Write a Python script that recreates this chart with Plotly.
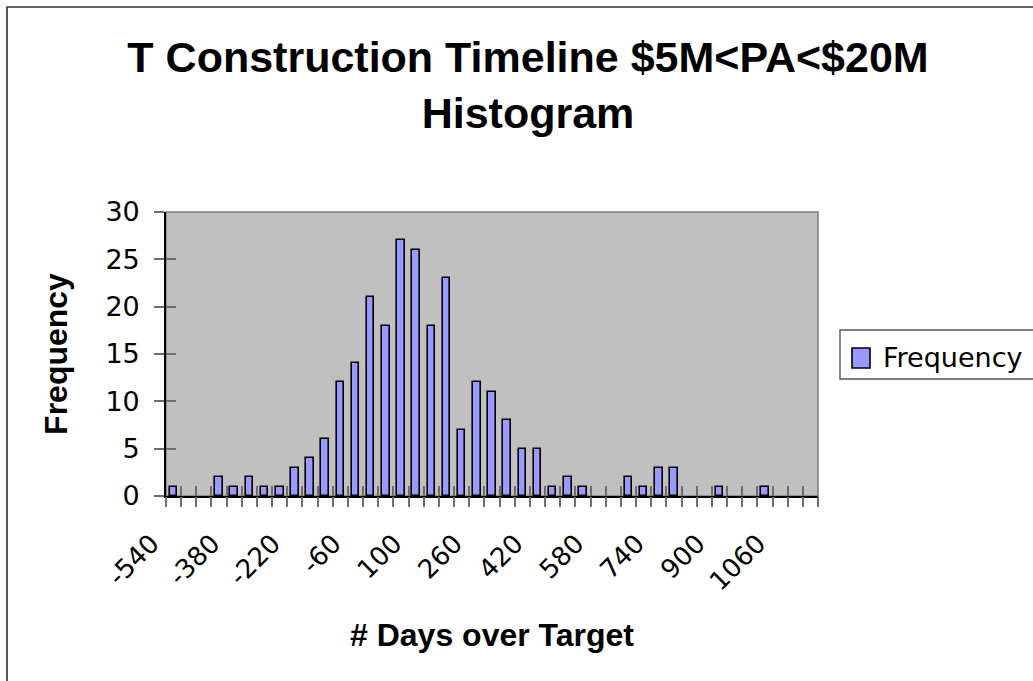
import plotly.graph_objects as go

# Histogram bins (days over target, 40-day bins) and their counts
bins = [-540, -500, -460, -420, -380, -340, -300, -260, -220, -180, -140,
        -100, -60, -20, 20, 60, 100, 140, 180, 220, 260, 300, 340, 380,
        420, 460, 500, 540, 580, 620, 660, 700, 740, 780, 820, 860, 900,
        940, 980, 1020, 1060, 1100, 1140]
frequency = [1, 0, 0, 2, 1, 2, 1, 1, 3, 4, 6, 12, 14, 21, 18, 27, 26, 18,
             23, 7, 12, 11, 8, 5, 5, 1, 2, 1, 0, 0, 2, 1, 3, 3, 0, 0, 1, 0,
             0, 1, 0, 0, 0]

# Every fourth bin carries a label on the category axis
label_vals = [-540, -380, -220, -60, 100, 260, 420, 580, 740, 900, 1060]
label_text = ["-540", "-380", "-220", "-60", "100", "260", "420", "580",
              "740", "900", "1060"]
y_ticks = [0, 5, 10, 15, 20, 25, 30]

BIN = 40
W, H = 1033, 681
L, R, T, B = 166, 818, 212, 496  # plot area in pixels
FONT_B = "Liberation Sans, Arial, sans-serif"
FONT_R = "DejaVu Sans, sans-serif"
BAR_FILL = "#9999FF"
TICK_COL = "#6e6e6e"

xr = [bins[0] - BIN / 2, bins[-1] + BIN / 2]
yr = [0, 30]


def px_x(x):
    return (x - L) / (R - L)


def px_y(y):
    return (B - y) / (B - T)


# empty bins get no outline so nothing is drawn for them
outline_w = [1.6 if v > 0 else 0 for v in frequency]

fig = go.Figure()
fig.add_trace(go.Bar(
    x=bins, y=frequency, width=BIN * 0.5, name="Frequency",
    marker=dict(color=BAR_FILL, line=dict(color="black", width=outline_w)),
    showlegend=False,
))

common_x = dict(range=xr, showgrid=False, zeroline=False, fixedrange=True)
common_y = dict(range=yr, showgrid=False, zeroline=False, fixedrange=True)

fig.update_layout(
    width=W, height=H,
    margin=dict(l=L, r=W - R, t=T, b=H - B, pad=0),
    paper_bgcolor="white",
    plot_bgcolor="#C0C0C0",
    font=dict(family=FONT_R, color="black"),
    bargap=0,
    title=dict(
        text="T Construction Timeline $5M&lt;PA&lt;$20M<br>Histogram",
        font=dict(family=FONT_B, size=43, weight="bold", color="black"),
        x=528 / W, xref="container", xanchor="center",
        y=1 - 72 / H, yref="container", yanchor="top",
    ),
    xaxis=dict(
        **common_x,
        tickmode="array", tickvals=label_vals, ticktext=label_text,
        tickangle=-45, ticks="", ticklabelstandoff=20, ticklabelshift=-22,
        tickfont=dict(family=FONT_R, size=26),
        showline=True, linecolor="black", linewidth=1.6,
        title=dict(text="# Days over Target", standoff=28,
                   font=dict(family=FONT_B, size=32, weight="bold")),
    ),
    xaxis2=dict(
        **common_x, overlaying="x", anchor="y",
        tickmode="linear", tick0=xr[0], dtick=BIN,
        ticks="outside", ticklen=10, tickwidth=1.6, tickcolor=TICK_COL,
        showticklabels=False, showline=False,
    ),
    xaxis3=dict(
        **common_x, overlaying="x", anchor="y",
        tickmode="linear", tick0=xr[0], dtick=BIN,
        ticks="inside", ticklen=10, tickwidth=1.6, tickcolor=TICK_COL,
        showticklabels=False, showline=False,
    ),
    yaxis=dict(
        **common_y,
        tickmode="array", tickvals=y_ticks,
        ticks="outside", ticklen=10, tickwidth=1.6, tickcolor=TICK_COL,
        ticklabelstandoff=9,
        tickfont=dict(family=FONT_R, size=27),
        showline=True, linecolor="black", linewidth=1.6,
        title=dict(text="Frequency", standoff=28,
                   font=dict(family=FONT_B, size=32, weight="bold")),
    ),
    yaxis2=dict(
        **common_y, overlaying="y", anchor="x", side="left",
        tickmode="array", tickvals=y_ticks,
        ticks="inside", ticklen=10, tickwidth=1.6, tickcolor=TICK_COL,
        showticklabels=False, showline=False,
    ),
)

# Empty helper traces so the overlay tick axes are rendered
fig.add_trace(go.Scatter(x=[None], y=[None], xaxis="x2", yaxis="y",
                         showlegend=False, hoverinfo="skip"))
fig.add_trace(go.Scatter(x=[None], y=[None], xaxis="x3", yaxis="y",
                         showlegend=False, hoverinfo="skip"))
fig.add_trace(go.Scatter(x=[None], y=[None], xaxis="x", yaxis="y2",
                         showlegend=False, hoverinfo="skip"))

shapes = [
    # gray frame on top/right of plot area
    dict(type="rect", xref="paper", yref="paper", x0=0, x1=1, y0=0, y1=1,
         line=dict(color="#808080", width=1.6), layer="below"),
    # outer chart-area border
    dict(type="rect", xref="paper", yref="paper",
         x0=px_x(7), x1=px_x(1045), y0=px_y(695), y1=px_y(7),
         line=dict(color="#333333", width=1.6)),
    # legend box
    dict(type="rect", xref="paper", yref="paper",
         x0=px_x(840), x1=px_x(1045), y0=px_y(379), y1=px_y(330),
         line=dict(color="#555555", width=1.4), fillcolor="white"),
    # legend swatch
    dict(type="rect", xref="paper", yref="paper",
         x0=px_x(852), x1=px_x(870), y0=px_y(368), y1=px_y(348),
         line=dict(color="black", width=1.6), fillcolor=BAR_FILL),
]
fig.update_layout(shapes=shapes)

fig.add_annotation(
    text="Frequency", xref="paper", yref="paper",
    x=px_x(881), y=px_y(357), xanchor="left", yanchor="middle",
    showarrow=False, font=dict(family=FONT_R, size=27, color="black"),
)

fig.write_html("out.html")
